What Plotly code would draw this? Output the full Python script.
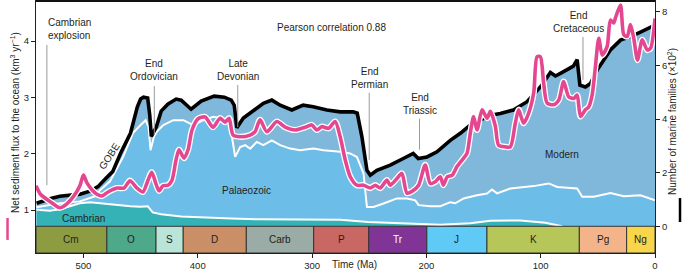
import plotly.graph_objects as go

# ---------------- data ----------------
# total number of marine families (x10^2) - black line, top of "Modern" area
total_age = [541, 529.4, 520.6, 511.8, 503.1, 494.3, 487.3, 480.3, 474.4, 467.5,
             458.8, 452.9, 450.0, 447.4, 443.8, 442.0, 440.6, 436.3, 432.0, 426.2,
             418.9, 414.5, 405.8, 397.0, 385.6, 376.8, 370.7, 368.1, 365.8, 360.1,
             354.2, 342.6, 335.2, 327.9, 317.7, 307.8, 299.0, 287.0, 275.4, 264.0,
             260.5, 256.4, 252.0, 249.1, 243.3, 231.6, 220.2, 211.5, 207.1, 199.5,
             190.7, 179.1, 170.3, 161.6, 152.9, 144.0, 135.3, 123.9, 111.9, 100.3,
             91.5, 87.1, 82.7, 71.4, 68.1, 65.7, 60.9, 56.5, 50.6, 45.1,
             39.0, 30.2, 21.5, 12.7, 3.9, 0]
total_val = [0.86, 1.03, 1.12, 1.16, 1.20, 1.31, 1.48, 1.79, 2.04, 2.73,
             3.48, 4.45, 4.75, 4.82, 4.79, 4.15, 3.36, 3.70, 4.30, 4.56,
             4.75, 4.71, 4.37, 4.67, 4.86, 4.82, 4.71, 4.52, 3.68, 4.04,
             4.22, 4.59, 4.71, 4.52, 4.34, 4.52, 4.46, 4.34, 4.27, 4.27,
             4.22, 3.34, 2.09, 1.91, 2.09, 2.28, 2.53, 2.72, 2.53, 2.59,
             2.78, 3.21, 3.47, 3.78, 3.96, 4.15, 4.21, 4.34, 4.65, 5.20,
             5.74, 5.61, 5.71, 5.98, 6.22, 5.27, 5.20, 5.33, 5.83, 6.21,
             6.58, 6.95, 7.08, 7.25, 7.44, 7.51]

# Cambrian + Palaeozoic faunas (cumulative)
pal_age = [541, 520.6, 503.1, 489.9, 485.5, 476.8, 465.4, 456.7, 450.0, 445.6,
           443.0, 441.3, 438.4, 435.9, 430.1, 421.4, 412.6, 403.9, 395.1, 386.3,
           377.6, 371.7, 367.3, 362.9, 358.5, 354.2, 348.3, 342.6, 335.2, 327.9,
           319.2, 310.4, 298.8, 290.0, 275.4, 266.7, 260.8, 255.0, 252.0, 246.2,
           237.5, 225.7, 217.0, 209.7, 206.8, 196.6, 187.8, 179.1, 174.7, 167.4,
           155.7, 146.9, 142.6, 138.2, 126.5, 114.9, 106.1, 93.0, 85.6, 68.1,
           63.7, 53.6, 39.0, 27.3, 12.7, 0]
pal_val = [0.71, 0.86, 0.93, 1.12, 1.35, 1.68, 2.58, 3.48, 3.78, 3.96,
           3.70, 2.84, 3.34, 3.53, 3.78, 3.96, 3.96, 3.78, 3.96, 4.09,
           4.03, 3.78, 2.59, 2.96, 3.03, 2.90, 3.15, 3.03, 3.21, 3.03,
           2.90, 2.84, 2.90, 2.84, 2.78, 2.72, 2.59, 1.98, 0.72, 0.72,
           0.85, 1.04, 1.04, 0.97, 0.79, 0.75, 0.75, 0.90, 0.86, 1.04,
           1.16, 1.22, 1.37, 1.23, 1.41, 1.47, 1.50, 1.60, 1.47, 1.41,
           1.10, 1.10, 1.24, 1.12, 1.16, 0.97]

# Cambrian fauna
camb_age = [541, 529.4, 520.6, 511.8, 503.1, 494.3, 485.5, 476.8, 467.5, 458.8,
            450.0, 443.8, 439.4, 432.0, 414.5, 397.0, 370.7, 345.5, 310.4, 275.4,
            250.9, 222.9, 187.8, 161.6, 144.0, 117.8, 95.9, 81.3]
camb_val = [0.62, 0.58, 0.64, 0.75, 0.86, 0.90, 0.86, 0.82, 0.79, 0.75,
            0.73, 0.75, 0.52, 0.45, 0.37, 0.33, 0.29, 0.26, 0.25, 0.24,
            0.16, 0.11, 0.06, 0.11, 0.21, 0.22, 0.13, 0.0]

# net sediment flux to the ocean (km3/yr) - pink line
flux_age = [541.5, 537.6, 528.5, 520.6, 514.5, 508.3, 503.1, 500.0, 496.9, 492.6,
            488.2, 483.8, 478.5, 470.6, 464.5, 459.3, 453.2, 447.9, 444.4, 440.3,
            436.5, 433.9, 430.4, 426.0, 422.5, 419.0, 416.4, 412.0, 408.5, 405.0,
            399.7, 393.6, 386.6, 380.5, 376.1, 372.6, 369.1, 363.0, 354.2, 349.9,
            345.5, 339.6, 330.8, 323.6, 314.8, 306.0, 300.2, 295.8, 291.4, 285.6,
            279.8, 275.4, 271.0, 266.6, 260.8, 255.0, 249.1, 244.7, 240.4, 234.5,
            231.6, 225.7, 221.4, 217.0, 212.6, 206.8, 201.0, 196.6, 192.2, 187.8,
            185.2, 181.7, 177.3, 173.2, 167.4, 164.4, 161.6, 158.7, 155.7, 151.3,
            146.9, 144.0, 139.7, 136.8, 130.9, 126.5, 122.2, 119.3, 114.9, 110.5,
            106.1, 103.2, 100.3, 97.4, 94.4, 88.6, 84.2, 79.9, 75.5, 71.1,
            68.1, 65.2, 60.9, 58.0, 55.0, 52.1, 49.2, 46.2, 41.9, 39.0,
            36.1, 34.6, 30.2, 27.3, 24.3, 21.5, 18.6, 15.3, 11.2, 6.8,
            3.9, 0]
flux_val = [1.43, 1.28, 1.14, 1.04, 1.11, 1.25, 1.43, 1.62, 1.48, 1.36,
            1.28, 1.25, 1.32, 1.39, 1.39, 1.52, 1.39, 1.32, 1.48, 1.67,
            1.46, 1.34, 1.43, 1.44, 1.53, 1.89, 2.07, 1.92, 2.07, 2.42,
            2.62, 2.65, 2.47, 2.63, 2.56, 2.63, 2.33, 2.30, 2.33, 2.39,
            2.60, 2.39, 2.57, 2.47, 2.42, 2.47, 2.51, 2.42, 2.48, 2.45,
            2.57, 2.30, 1.89, 1.59, 1.44, 1.44, 1.39, 1.44, 1.39, 1.53,
            1.44, 1.56, 1.65, 1.30, 1.33, 1.44, 1.80, 1.47, 1.50, 1.59,
            1.44, 1.59, 1.62, 1.77, 1.92, 2.01, 2.36, 2.66, 2.42, 2.78,
            2.63, 2.75, 2.49, 2.15, 2.12, 2.12, 2.54, 2.78, 2.54, 2.72,
            3.08, 3.72, 3.72, 3.25, 2.90, 2.87, 2.95, 3.28, 3.01, 2.98,
            3.04, 2.66, 2.78, 2.83, 3.04, 3.55, 4.05, 3.75, 3.90, 4.37,
            4.32, 4.41, 4.64, 4.11, 4.08, 4.29, 4.05, 3.66, 4.02, 3.84,
            3.87, 4.40]

# extinction events
event_names = ["Cambrian<br>explosion", "End<br>Ordovician", "Late<br>Devonian",
               "End<br>Permian", "End<br>Triassic", "End<br>Cretaceous"]
event_ages = [532, 438, 365, 250, 206, 63]
event_line_top = [3.93, 3.20, 3.22, 3.08, 2.62, 4.07]
event_line_bottom = [1.44, 2.33, 2.47, 1.89, 2.07, 3.31]
event_label_age = [533, 438.3, 364.4, 249.7, 206, 66.7]
event_label_y = [4.22, 3.49, 3.49, 3.34, 2.88, 4.33]

# geological periods
period_names = ["Cm", "O", "S", "D", "Carb", "P", "Tr", "J", "K", "Pg", "Ng"]
period_start = [541.5, 479.5, 436.5, 412.7, 357.5, 298.6, 250.4, 199.6, 147.0, 66.2, 24.8]
period_end = [479.5, 436.5, 412.7, 357.5, 298.6, 250.4, 199.6, 147.0, 66.2, 24.8, 0]
period_colors = ["#8e9c41", "#4ea88a", "#b9e4d7", "#cb8f67", "#9aaca5", "#c86763",
                 "#7f3496", "#5fcaf6", "#b7c658", "#f3b489", "#f8d64c"]
period_text_colors = ["#231f20"] * 6 + ["#ffffff"] + ["#231f20"] * 4

x_ticks = [500, 400, 300, 200, 100, 0]
left_ticks = [1, 2, 3, 4]
right_ticks = [0, 2, 4, 6, 8]

# ---------------- figure ----------------
FONT = "Liberation Sans, Arial, Helvetica, sans-serif"
TXT = "#231f20"
X_RANGE = [541.5, 0]
FAM_RANGE = [-0.997, 8.41]
FLUX_RANGE = [0.2366, 4.71]

fig = go.Figure()

fig.add_trace(go.Scatter(x=total_age, y=total_val, yaxis="y", mode="lines",
                         fill="tozeroy", fillcolor="#80b8dc",
                         line=dict(width=0, color="#80b8dc"), hoverinfo="skip"))
fig.add_trace(go.Scatter(x=pal_age, y=pal_val, yaxis="y", mode="lines",
                         fill="tozeroy", fillcolor="#6dbde9",
                         line=dict(width=2, color="white"), hoverinfo="skip"))
fig.add_trace(go.Scatter(x=camb_age, y=camb_val, yaxis="y", mode="lines",
                         fill="tozeroy", fillcolor="#35b2b6",
                         line=dict(width=2, color="white"), hoverinfo="skip"))
fig.add_trace(go.Scatter(x=total_age, y=total_val, yaxis="y", mode="lines",
                         line=dict(width=3.6, color="#000000"), hoverinfo="skip"))
fig.add_trace(go.Scatter(x=flux_age, y=flux_val, yaxis="y2", mode="lines",
                         line=dict(width=6.2, color="white", shape="spline", smoothing=0.7),
                         hoverinfo="skip"))
fig.add_trace(go.Scatter(x=flux_age, y=flux_val, yaxis="y2", mode="lines",
                         line=dict(width=3.6, color="#e4468f", shape="spline", smoothing=0.7),
                         hoverinfo="skip"))

shapes = []
annotations = []

# period bar
for name, s, e, c, tc in zip(period_names, period_start, period_end, period_colors, period_text_colors):
    shapes.append(dict(type="rect", xref="x", yref="y", x0=s, x1=e, y0=FAM_RANGE[0], y1=0,
                       fillcolor=c, line=dict(color="#333333", width=1), layer="above"))
    annotations.append(dict(x=(s + e) / 2, y=FAM_RANGE[0] / 2, xref="x", yref="y", text=name,
                            showarrow=False, font=dict(size=10, color=tc, family=FONT)))

# event lines + labels
for i, (name, age) in enumerate(zip(event_names, event_ages)):
    shapes.append(dict(type="line", xref="x", yref="y2", x0=age, x1=age,
                       y0=event_line_bottom[i], y1=event_line_top[i],
                       line=dict(color="#9a9a9a", width=1)))
    annotations.append(dict(x=event_label_age[i], y=event_label_y[i], xref="x", yref="y2",
                            text=name, showarrow=False,
                            xanchor="left" if i == 0 else "center", yanchor="middle",
                            align="left" if i == 0 else "center",
                            font=dict(size=10, color=TXT, family=FONT)))

# fauna labels
annotations += [
    dict(x=500, y=0.29, xref="x", yref="y", text="Cambrian", showarrow=False,
         font=dict(size=10, color=TXT, family=FONT)),
    dict(x=357, y=1.35, xref="x", yref="y", text="Palaeozoic", showarrow=False,
         font=dict(size=10, color=TXT, family=FONT)),
    dict(x=81, y=2.69, xref="x", yref="y", text="Modern", showarrow=False,
         font=dict(size=10, color=TXT, family=FONT)),
    dict(x=477.6, y=1.95, xref="x", yref="y2", text="GOBE", showarrow=False, textangle=-57,
         font=dict(size=10, color=TXT, family=FONT)),
    dict(x=0.4777, y=0.9246, xref="paper", yref="paper", text="Pearson correlation 0.88",
         showarrow=False, font=dict(size=10, color=TXT, family=FONT)),
    dict(x=0.515, y=-0.074, xref="paper", yref="paper", text="Time (Ma)",
         showarrow=False, font=dict(size=10, color=TXT, family=FONT)),
    dict(x=-0.046, y=0.518, xref="paper", yref="paper", textangle=-90,
         text="Net sediment flux to the ocean (km<sup>3</sup> yr<sup>\u22121</sup>)",
         showarrow=False, font=dict(size=10, color=TXT, family=FONT)),
    dict(x=1.0412, y=0.522, xref="paper", yref="paper", textangle=-90,
         text="Number of marine families (\u00d710<sup>2</sup>)",
         showarrow=False, font=dict(size=10, color=TXT, family=FONT)),
]

# legend marks next to axis titles
shapes.append(dict(type="line", xref="paper", yref="paper", x0=-0.046, x1=-0.046,
                   y0=0.052, y1=0.139, line=dict(color="#e4468f", width=2.5)))
shapes.append(dict(type="line", xref="paper", yref="paper", x0=1.0404, x1=1.0404,
                   y0=0.123, y1=0.218, line=dict(color="#000000", width=2.5)))
# heavier top frame line
shapes.append(dict(type="line", xref="paper", yref="paper", x0=0, x1=1, y0=1, y1=1,
                   line=dict(color="#111111", width=2)))

fig.update_layout(
    width=685, height=277,
    margin=dict(l=36, r=30, t=1, b=24),
    paper_bgcolor="white", plot_bgcolor="white",
    showlegend=False,
    font=dict(family=FONT, size=10, color=TXT),
    shapes=shapes, annotations=annotations,
    xaxis=dict(range=X_RANGE, tickvals=x_ticks, ticks="outside", ticklen=4, tickwidth=1,
               tickcolor=TXT, showline=True, mirror=True, linecolor=TXT, linewidth=1,
               showgrid=False, zeroline=False, tickfont=dict(size=9.5, family=FONT, color=TXT)),
    yaxis=dict(range=FAM_RANGE, side="right", tickvals=right_ticks, ticks="outside",
               ticklen=4, tickwidth=1, tickcolor=TXT, showline=True, linecolor=TXT,
               linewidth=1, showgrid=False, zeroline=False,
               tickfont=dict(size=9.5, family=FONT, color=TXT)),
    yaxis2=dict(range=FLUX_RANGE, side="left", overlaying="y", tickvals=left_ticks,
                ticks="outside", ticklen=4, tickwidth=1, tickcolor=TXT, showline=True,
                linecolor=TXT, linewidth=1, showgrid=False, zeroline=False,
                tickfont=dict(size=9.5, family=FONT, color=TXT)),
)

fig.write_html(
    "out.html",
    config={"displayModeBar": False},
    post_script="document.body.style.margin='0';document.body.style.padding='0';"
                "document.documentElement.style.overflow='hidden';",
)
